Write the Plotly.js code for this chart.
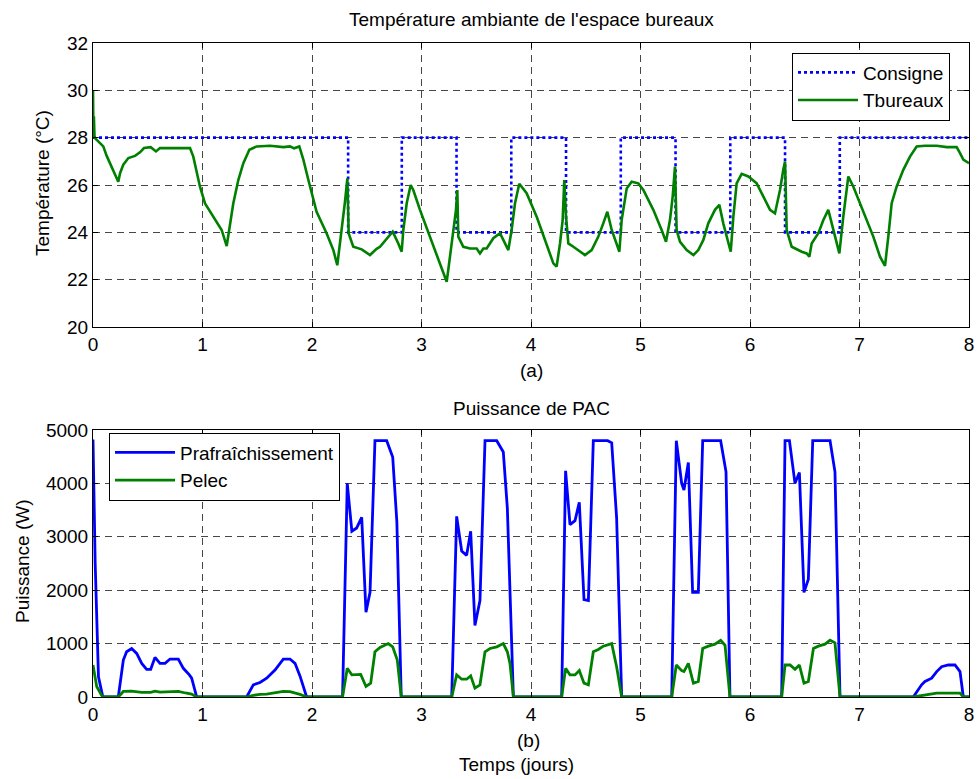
<!DOCTYPE html>
<html>
<head>
<meta charset="utf-8">
<script src="https://cdn.plot.ly/plotly-3.0.1.min.js"></script>
<style>
  html, body { margin: 0; padding: 0; background: #fff; }
  #chart { width: 979px; height: 779px; }
</style>
</head>
<body>
<div id="chart"></div>
<script>
// ---------- Data ----------
// Top: setpoint (step) and office temperature
const consX = [0, 2.33, 2.82, 3.32, 3.82, 4.32, 4.82, 5.32, 5.82, 6.32, 6.82, 8];
const consY = [28, 24, 28, 24, 28, 24, 28, 24, 28, 24, 28, 28];

const tX = [0, 0.004, 0.008, 0.014, 0.018, 0.094, 0.125, 0.170, 0.216, 0.231, 0.247, 0.277, 0.323, 0.384, 0.429, 0.466, 0.527, 0.575, 0.612, 0.886,
  0.916, 0.977, 1.023, 1.099, 1.175, 1.221, 1.245, 1.281, 1.327, 1.373, 1.428, 1.495, 1.616, 1.738, 1.799, 1.836, 1.884,
  1.921, 1.967, 2.042, 2.134, 2.195, 2.231, 2.256, 2.280, 2.301, 2.323, 2.335, 2.377, 2.454, 2.530, 2.590,
  2.621, 2.682, 2.737, 2.788, 2.819, 2.834, 2.865, 2.901, 2.925, 2.986, 3.078, 3.154, 3.230, 3.260, 3.291, 3.315, 3.327, 3.336,
  3.382, 3.443, 3.504, 3.534, 3.565, 3.595, 3.656, 3.717, 3.747, 3.793, 3.823, 3.854, 3.893, 3.960, 4.052, 4.143, 4.204, 4.234,
  4.265, 4.289, 4.304, 4.320, 4.341, 4.387, 4.447, 4.493, 4.554, 4.615, 4.660, 4.697, 4.737, 4.782, 4.807, 4.828, 4.874, 4.919,
  4.980, 5.026, 5.117, 5.193, 5.233, 5.269, 5.294, 5.315, 5.330, 5.361,
  5.422, 5.483, 5.528, 5.574, 5.619, 5.680, 5.720, 5.756, 5.802, 5.824, 5.848, 5.878, 5.924, 5.985, 6.061, 6.122, 6.183, 6.228,
  6.274, 6.304, 6.320, 6.335, 6.381, 6.472, 6.518, 6.542, 6.563, 6.624, 6.670, 6.715, 6.761, 6.792, 6.816, 6.852, 6.898, 6.944,
  7.005, 7.065, 7.126, 7.187, 7.233, 7.263, 7.294, 7.339, 7.400, 7.461, 7.522, 7.598, 7.705, 7.796, 7.887, 7.918, 7.948, 8.0];
const tY = [30.0, 28.0, 28.9, 28.0, 27.98, 27.63, 27.23, 26.78, 26.36, 26.14, 26.5, 26.86, 27.14, 27.23, 27.38, 27.56, 27.6, 27.42, 27.56, 27.56,
  27.2, 25.93, 25.22, 24.66, 24.1, 23.42, 24.1, 25.22, 26.21, 26.92, 27.49, 27.63, 27.66, 27.6, 27.63, 27.55, 27.63,
  27.07, 26.21, 24.87, 23.95, 23.25, 22.61, 23.53, 24.38, 25.29, 26.28, 23.95, 23.39, 23.28, 23.04, 23.3,
  23.39, 23.75, 24.03, 23.53, 23.18, 24.10, 25.23, 26.0, 25.79, 24.95, 23.82, 22.83, 21.91, 22.97, 24.10, 24.95, 25.79, 23.82,
  23.39, 23.32, 23.32, 23.11, 23.32, 23.32, 23.75, 23.96, 23.68, 23.25, 24.10, 25.23, 26.05, 25.65, 24.66, 23.53, 22.69, 22.55,
  23.53, 24.52, 26.21, 24.66, 23.53, 23.39, 23.18, 23.04, 23.25, 23.82, 24.38, 24.87, 24.10, 23.53, 23.18, 24.52, 25.85, 26.14,
  26.07, 25.79, 24.95, 24.10, 23.6, 24.52, 25.51, 26.78, 24.10, 23.6,
  23.25, 23.04, 23.25, 23.68, 24.38, 24.95, 25.16, 24.38, 23.53, 23.18, 24.66, 26.07, 26.47, 26.36, 26.07, 25.51, 24.95, 24.80,
  25.79, 26.64, 26.99, 24.10, 23.39, 23.18, 23.11, 22.97, 23.53, 23.96, 24.52, 24.95, 24.10, 23.53, 23.11, 24.66, 26.36, 25.93,
  25.23, 24.52, 23.82, 22.97, 22.58, 23.82, 25.23, 25.93, 26.64, 27.2, 27.63, 27.66, 27.66, 27.6, 27.6, 27.35, 27.07, 26.92];

// Bottom: cooling power and electric power (W)
const pRX = [0, 0.02, 0.05, 0.09, 0.231, 0.277, 0.307, 0.353, 0.399, 0.445, 0.49, 0.527, 0.566, 0.612, 0.658, 0.703, 0.779, 0.825, 0.880, 0.901, 0.947,
  1.403, 1.464, 1.525, 1.586, 1.662, 1.738, 1.799, 1.845, 1.890, 1.951,
  2.279, 2.322, 2.364, 2.408, 2.454, 2.493, 2.530, 2.575, 2.682, 2.737, 2.775, 2.790, 2.815,
  3.276, 3.321, 3.367, 3.412, 3.449, 3.488, 3.534, 3.580, 3.687, 3.747, 3.784, 3.808, 3.839,
  4.280, 4.316, 4.356, 4.402, 4.441, 4.484, 4.524, 4.569, 4.700, 4.737, 4.782, 4.828,
  5.285, 5.327, 5.376, 5.397, 5.437, 5.476, 5.528, 5.568, 5.732, 5.781, 5.817,
  6.289, 6.320, 6.360, 6.411, 6.451, 6.493, 6.533, 6.573, 6.731, 6.776, 6.822,
  7.491, 7.567, 7.598, 7.659, 7.705, 7.75, 7.811, 7.872, 7.918, 7.948, 8.0];
const pRY = [4820, 2500, 380, 0, 0, 692, 847, 909, 816, 630, 519, 519, 742, 630, 630, 711, 711, 537, 414, 352, 0,
  0, 228, 271, 352, 506, 711, 711, 630, 395, 0,
  0, 4000, 3104, 3166, 3364, 1589, 1960, 4800, 4800, 4495, 3280, 2050, 0,
  0, 3382, 2733, 2652, 3104, 1341, 1805, 4800, 4800, 4588, 3537, 2053, 0,
  0, 4236, 3228, 3302, 3648, 1824, 1805, 4800, 4800, 4761, 3351, 0,
  0, 4800, 4001, 3877, 4390, 1960, 1960, 4800, 4800, 4217, 0,
  0, 4800, 4800, 4001, 4205, 1960, 2207, 4800, 4800, 4217, 0,
  0, 228, 290, 352, 476, 568, 599, 599, 476, 0, 0];

const pEX = [0, 0.034, 0.079, 0.094, 0.231, 0.277, 0.353, 0.445, 0.527, 0.566, 0.612, 0.703, 0.779, 0.845, 0.9, 0.947,
  1.403, 1.464, 1.525, 1.586, 1.662, 1.738, 1.799, 1.845, 1.890, 1.951,
  2.279, 2.322, 2.364, 2.445, 2.493, 2.536, 2.575, 2.621, 2.697, 2.737, 2.779, 2.815,
  3.276, 3.321, 3.367, 3.412, 3.449, 3.488, 3.534, 3.580, 3.626, 3.687, 3.747, 3.784, 3.808, 3.839,
  4.280, 4.316, 4.356, 4.402, 4.441, 4.484, 4.524, 4.569, 4.615, 4.660, 4.737, 4.782, 4.828,
  5.285, 5.327, 5.376, 5.397, 5.437, 5.483, 5.528, 5.568, 5.619, 5.680, 5.732, 5.772, 5.817,
  6.289, 6.320, 6.366, 6.411, 6.451, 6.493, 6.533, 6.579, 6.624, 6.685, 6.731, 6.776, 6.822,
  7.491, 7.583, 7.644, 7.705, 7.918, 7.948, 8.0];
const pEY = [599, 197, 30, 0, 0, 104, 110, 85, 85, 110, 90, 105, 105, 75, 55, 0,
  0, 30, 50, 55, 80, 105, 100, 80, 50, 0,
  0, 537, 414, 424, 197, 259, 847, 927, 1001, 940, 692, 0,
  0, 414, 333, 333, 395, 166, 228, 847, 909, 939, 1001, 847, 630, 0,
  0, 537, 414, 414, 494, 259, 228, 847, 890, 952, 1001, 568, 0,
  0, 599, 494, 476, 630, 259, 290, 909, 952, 989, 1063, 970, 0,
  0, 599, 599, 519, 599, 259, 290, 909, 952, 989, 1063, 1014, 0,
  0, 30, 62, 73, 73, 0, 0];

// Text
const titleTop = "Température ambiante de l'espace bureaux";
const titleBottom = "Puissance de PAC";
const yTitleTop = "Température (°C)";
const yTitleBottom = "Puissance (W)";
const xLabelTop = "(a)";
const xLabelBottom = "(b)";
const xTitle = "Temps (jours)";

// ---------- Styling ----------
const FONT = "Liberation Sans, Arial, Helvetica, sans-serif";
const FS = 19;
const gridStyle = {
  showgrid: true, gridcolor: 'rgba(0,0,0,0.72)', gridwidth: 1, griddash: '7px,5px',
  showline: true, linecolor: '#000', linewidth: 1, mirror: 'ticks',
  ticks: 'inside', ticklen: 5, tickcolor: '#000', zeroline: false,
  tickfont: {family: FONT, size: FS, color: '#000'}
};

const traces = [
  {x: consX, y: consY, type: 'scatter', mode: 'lines', name: 'Consigne',
   line: {color: 'rgb(0,0,255)', width: 2.6, dash: '3px,3px', shape: 'hv'},
   xaxis: 'x', yaxis: 'y', legend: 'legend'},
  {x: tX, y: tY, type: 'scatter', mode: 'lines', name: 'Tbureaux',
   line: {color: 'rgb(0,128,0)', width: 2.6},
   xaxis: 'x', yaxis: 'y', legend: 'legend'},
  {x: pRX, y: pRY, type: 'scatter', mode: 'lines', name: 'Prafraîchissement',
   line: {color: 'rgb(0,0,255)', width: 2.8},
   xaxis: 'x2', yaxis: 'y2', legend: 'legend2'},
  {x: pEX, y: pEY, type: 'scatter', mode: 'lines', name: 'Pelec',
   line: {color: 'rgb(0,128,0)', width: 2.8},
   xaxis: 'x2', yaxis: 'y2', legend: 'legend2'}
];

// paper-y for a pixel row (plot area from 43 to 697)
const py = p => (697 - p) / 654;
const px = p => (p - 93) / 876;

const ann = (text, x, y, extra) => Object.assign({
  text: text, xref: 'paper', yref: 'paper', x: x, y: y,
  xanchor: 'center', yanchor: 'middle', showarrow: false,
  font: {family: FONT, size: FS, color: '#000'}
}, extra || {});

const layout = {
  width: 979, height: 779,
  margin: {l: 93, r: 10, t: 43, b: 82},
  paper_bgcolor: '#fff', plot_bgcolor: '#fff',
  font: {family: FONT, size: FS, color: '#000'},
  xaxis: Object.assign({}, gridStyle, {domain: [0, 1], range: [0, 8], dtick: 1, anchor: 'y'}),
  yaxis: Object.assign({}, gridStyle, {domain: [py(327), 1], range: [20, 32], dtick: 2, anchor: 'x'}),
  xaxis2: Object.assign({}, gridStyle, {domain: [0, 1], range: [0, 8], dtick: 1, anchor: 'y2'}),
  yaxis2: Object.assign({}, gridStyle, {domain: [0, py(430)], range: [0, 5000], dtick: 1000, anchor: 'x2'}),
  showlegend: true,
  legend: {x: px(792), y: py(52.5), xanchor: 'left', yanchor: 'top',
           bgcolor: '#fff', bordercolor: '#000', borderwidth: 1,
           font: {family: FONT, size: FS, color: '#000'}, itemwidth: 60, tracegroupgap: 0},
  legend2: {x: px(109), y: py(432.5), xanchor: 'left', yanchor: 'top',
            bgcolor: '#fff', bordercolor: '#000', borderwidth: 1,
            font: {family: FONT, size: FS, color: '#000'}, itemwidth: 60, tracegroupgap: 0},
  annotations: [
    ann(titleTop, px(531), py(19)),
    ann(titleBottom, px(531), py(408)),
    ann(xLabelTop, px(531), py(370)),
    ann(xLabelBottom, px(528), py(740)),
    ann(xTitle, px(516), py(764)),
    ann(yTitleTop, px(43), py(183), {textangle: -90}),
    ann(yTitleBottom, px(22), py(561), {textangle: -90})
  ]
};

Plotly.newPlot('chart', traces, layout, {displayModeBar: false, staticPlot: true});
</script>
</body>
</html>
